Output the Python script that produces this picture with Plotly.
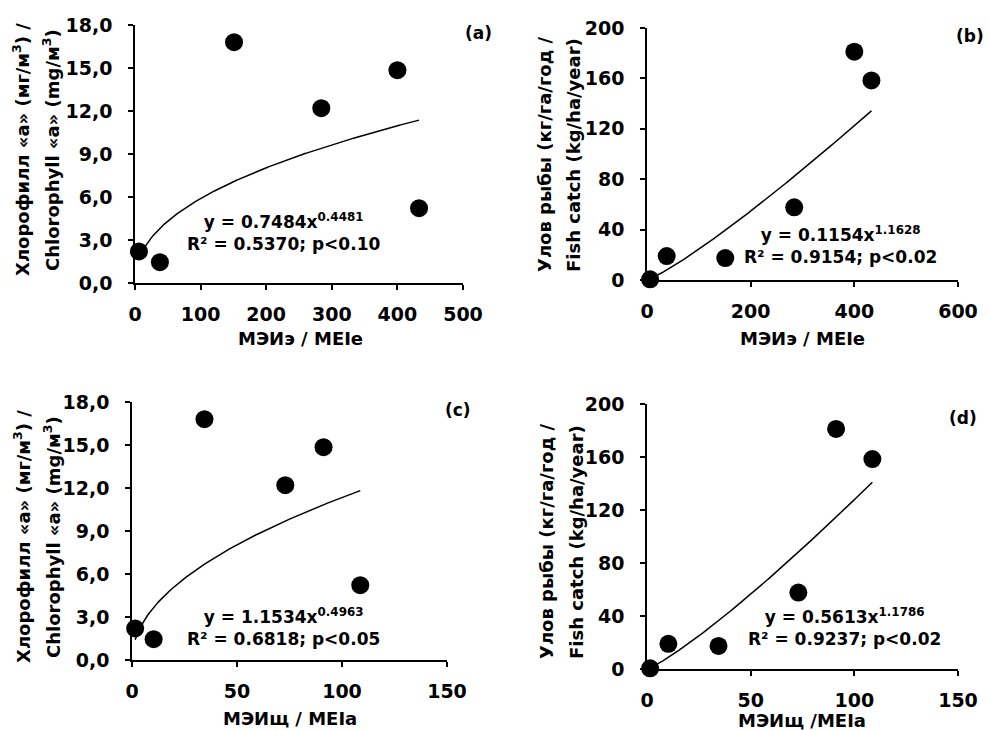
import numpy as np
import plotly.graph_objects as go

# ---- data ----
mei_e = [6, 38, 151, 284, 400, 433]          # МЭИэ / MEIe
mei_a = [1.5, 10.3, 34.5, 73, 91.2, 108.7]   # МЭИщ / MEIa
chl = [2.2, 1.45, 16.8, 12.2, 14.85, 5.22]   # chlorophyll a, mg/m3
fish = [0.5, 19, 17.4, 57.7, 181.2, 158.4]   # fish catch, kg/ha/year

# power trendline coefficients printed on the chart (y = a * x^b)
coef_a = [0.7484, 0.1154, 1.1534, 0.5613]
coef_b = [0.4481, 1.1628, 0.4963, 1.1786]
eq_text = [
    "y = 0.7484x<sup>0.4481</sup><br>R² = 0.5370; p<0.10",
    "y = 0.1154x<sup>1.1628</sup><br>R² = 0.9154; p<0.02",
    "y = 1.1534x<sup>0.4963</sup><br>R² = 0.6818; p<0.05",
    "y = 0.5613x<sup>1.1786</sup><br>R² = 0.9237; p<0.02",
]
panel_labels = ["(a)", "(b)", "(c)", "(d)"]
x_titles = ["МЭИэ / MEIe", "МЭИэ / MEIe", "МЭИщ / MEIa", "МЭИщ /MEIa"]
y_title_chl = ["Хлорофилл «а» (мг/м<sup>3</sup>) /", "Chlorophyll «а» (mg/м<sup>3</sup>)"]
y_title_fish = ["Улов рыбы (кг/га/год /", "Fish catch (kg/ha/year)"]

chl_ticks = [0, 3, 6, 9, 12, 15, 18]
chl_ticktext = ["0,0", "3,0", "6,0", "9,0", "12,0", "15,0", "18,0"]
fish_ticks = [0, 40, 80, 120, 160, 200]
xticks_e_a = [0, 100, 200, 300, 400, 500]
xticks_e_b = [0, 200, 400, 600]
xticks_a = [0, 50, 100, 150]

W, H = 990, 730
FONT = "DejaVu Sans"

def px(xp):
    return xp / W

def py(yp):
    return 1 - yp / H

# plot area pixel boxes (x0, x1, ytop, ybottom)
boxes = [(135, 463, 25, 283), (647, 958, 28, 280), (132, 447, 402, 660), (647, 958, 404, 669)]

panels = [
    (mei_e, chl, [0, 500], xticks_e_a, [0, 18], chl_ticks, chl_ticktext),
    (mei_e, fish, [0, 600], xticks_e_b, [0, 200], fish_ticks, [str(v) for v in fish_ticks]),
    (mei_a, chl, [0, 150], xticks_a, [0, 18], chl_ticks, chl_ticktext),
    (mei_a, fish, [0, 150], xticks_a, [0, 200], fish_ticks, [str(v) for v in fish_ticks]),
]

fig = go.Figure()
layout = dict(
    width=W, height=H, margin=dict(l=0, r=0, t=0, b=0, autoexpand=False),
    paper_bgcolor="white", plot_bgcolor="white", showlegend=False,
    font=dict(family=FONT, color="black", size=18, weight="bold"),
)
annotations = []

for i, (xs, ys, xr, xt, yr, yt, ytt) in enumerate(panels):
    n = i + 1
    xa = "x" if n == 1 else f"x{n}"
    ya = "y" if n == 1 else f"y{n}"
    x0, x1, yt0, yb0 = boxes[i]
    axis_common = dict(
        showline=True, linecolor="black", linewidth=1.5, showgrid=False, zeroline=False,
        ticks="outside", ticklen=5, tickwidth=1.5, tickcolor="black",
        tickfont=dict(family=FONT, size=19, color="black", weight="bold"),
        automargin=False,
    )
    layout["xaxis" if n == 1 else f"xaxis{n}"] = dict(
        axis_common, domain=[px(x0), px(x1)], range=xr, anchor=ya,
        tickmode="array", tickvals=xt, ticktext=[str(v) for v in xt],
        ticklabelstandoff=8,
    )
    layout["yaxis" if n == 1 else f"yaxis{n}"] = dict(
        axis_common, domain=[py(yb0), py(yt0)], range=yr, anchor=xa,
        tickmode="array", tickvals=yt, ticktext=ytt,
        ticklabelstandoff=12,
    )
    # trendline from printed equation, over data x-range
    xc = np.linspace(min(xs), max(xs), 200)
    yc = coef_a[i] * xc ** coef_b[i]
    fig.add_trace(go.Scatter(x=xc, y=yc, mode="lines", line=dict(color="black", width=1.5),
                             xaxis=xa, yaxis=ya, hoverinfo="skip"))
    fig.add_trace(go.Scatter(x=xs, y=ys, mode="markers", cliponaxis=False,
                             marker=dict(color="black", size=18),
                             xaxis=xa, yaxis=ya))

# equation annotations (pixel centres)
eq_pos = [(283, 232), (840, 245), (283, 627), (844, 627)]
for (xp, yp), t in zip(eq_pos, eq_text):
    annotations.append(dict(x=px(xp), y=py(yp), xref="paper", yref="paper", text=t,
                            showarrow=False, xanchor="center", yanchor="middle",
                            font=dict(family=FONT, size=17, weight="bold")))

lab_pos = [(478, 33), (970, 36), (458, 410), (963, 418)]
for (xp, yp), t in zip(lab_pos, panel_labels):
    annotations.append(dict(x=px(xp), y=py(yp), xref="paper", yref="paper", text=t,
                            showarrow=False, xanchor="center", yanchor="middle",
                            font=dict(family=FONT, size=17, weight="bold")))

xt_pos = [(300, 338), (802, 338), (290, 718), (802, 720)]
for (xp, yp), t in zip(xt_pos, x_titles):
    annotations.append(dict(x=px(xp), y=py(yp), xref="paper", yref="paper", text=t,
                            showarrow=False, xanchor="center", yanchor="middle",
                            font=dict(family=FONT, size=18, weight="bold")))

# y titles: two rotated lines each
yt_pos = [
    ((21, 51), 150, y_title_chl),
    ((545, 574), 155, y_title_fish),
    ((22, 52), 537, y_title_chl),
    ((546, 576), 542, y_title_fish),
]
for (xa1, xa2), yc_, lines in yt_pos:
    for xp, t in zip((xa1, xa2), lines):
        annotations.append(dict(x=px(xp), y=py(yc_), xref="paper", yref="paper", text=t,
                                showarrow=False, textangle=-90, xanchor="center", yanchor="middle",
                                font=dict(family=FONT, size=18, weight="bold")))

layout["annotations"] = annotations
fig.update_layout(**layout)
fig.write_html("out.html", config={"displayModeBar": False},
               post_script="document.body.style.margin='0';document.body.style.overflow='hidden';")
